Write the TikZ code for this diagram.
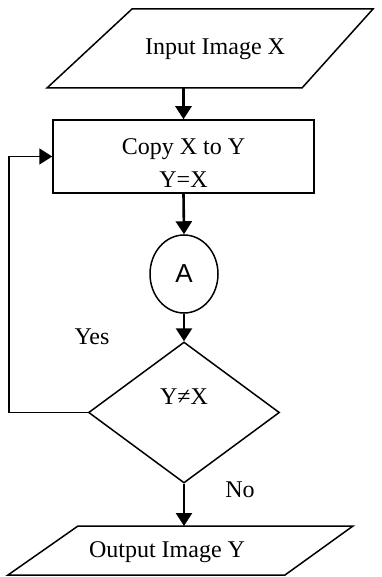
\documentclass[tikz,border=0pt]{standalone}
\usepackage{fontspec}
\setmainfont{Liberation Serif}
\newfontfamily\arialfont{Liberation Sans}
\usetikzlibrary{shapes.geometric,arrows.meta}
\begin{document}
\begin{tikzpicture}[x=1pt,y=-1pt,
  every node/.style={font=\fontsize{24}{33}\selectfont},
  shapeline/.style={draw=black,line width=1.5pt,line join=miter},
  proc/.style={shapeline,rectangle,inner sep=0pt,minimum width=261pt,minimum height=73pt},
  conn/.style={shapeline,ellipse,inner sep=0pt,minimum width=68pt,minimum height=78pt,font=\arialfont\fontsize{26}{30}\selectfont},
  decision/.style={shapeline,diamond,inner sep=0pt,minimum width=191pt,minimum height=141pt,shape aspect=1.35},
  flow/.style={line width=2.6pt,-{Triangle[length=13pt,width=16pt]}},
  loopline/.style={line width=1.6pt,-{Triangle[length=13pt,width=16pt]}},
  txt/.style={inner sep=0pt,align=center}
]
\useasboundingbox (0,0) rectangle (381,577);

% input parallelogram
\coordinate (inTL) at (132,9);
\coordinate (inTR) at (373,9);
\coordinate (inBR) at (302,88);
\coordinate (inBL) at (47,88);
\draw[shapeline] (inTL) -- (inTR) -- (inBR) -- (inBL) -- cycle;
\node[txt] (in) at (215,49) {Input Image X};

% process box
\node[proc] (box) at (183.5,156.5) {};
\node[txt] (boxtext) at (183.5,163) {Copy X to Y\\Y=X};

% connector circle
\node[conn] (A) at (184,274) {A};

% decision
\node[decision] (dia) at (184,412.5) {};
\node[txt] (diatext) at (184,397) {Y≠X};

% output parallelogram
\coordinate (outTL) at (78,526);
\coordinate (outTR) at (353,526);
\coordinate (outBR) at (285,575);
\coordinate (outBL) at (8,575);
\draw[shapeline] (outTL) -- (outTR) -- (outBR) -- (outBL) -- cycle;
\node[txt] (out) at (167,552) {Output Image Y};

% branch labels
\node[txt] (yes) at (92,337) {Yes};
\node[txt] (no) at (240,490) {No};

% connectors
\draw[flow] (box.north |- inBL) -- (box.north);
\draw[flow] (box.south) -- (A.north);
\draw[flow] (A.south) -- (dia.north);
\draw[flow] (dia.south) -- (dia.south |- outTL);
\coordinate (loopc) at (9,412.5);
\draw[loopline] (dia.west) -- (loopc) |- (box.west);
\end{tikzpicture}
\end{document}
